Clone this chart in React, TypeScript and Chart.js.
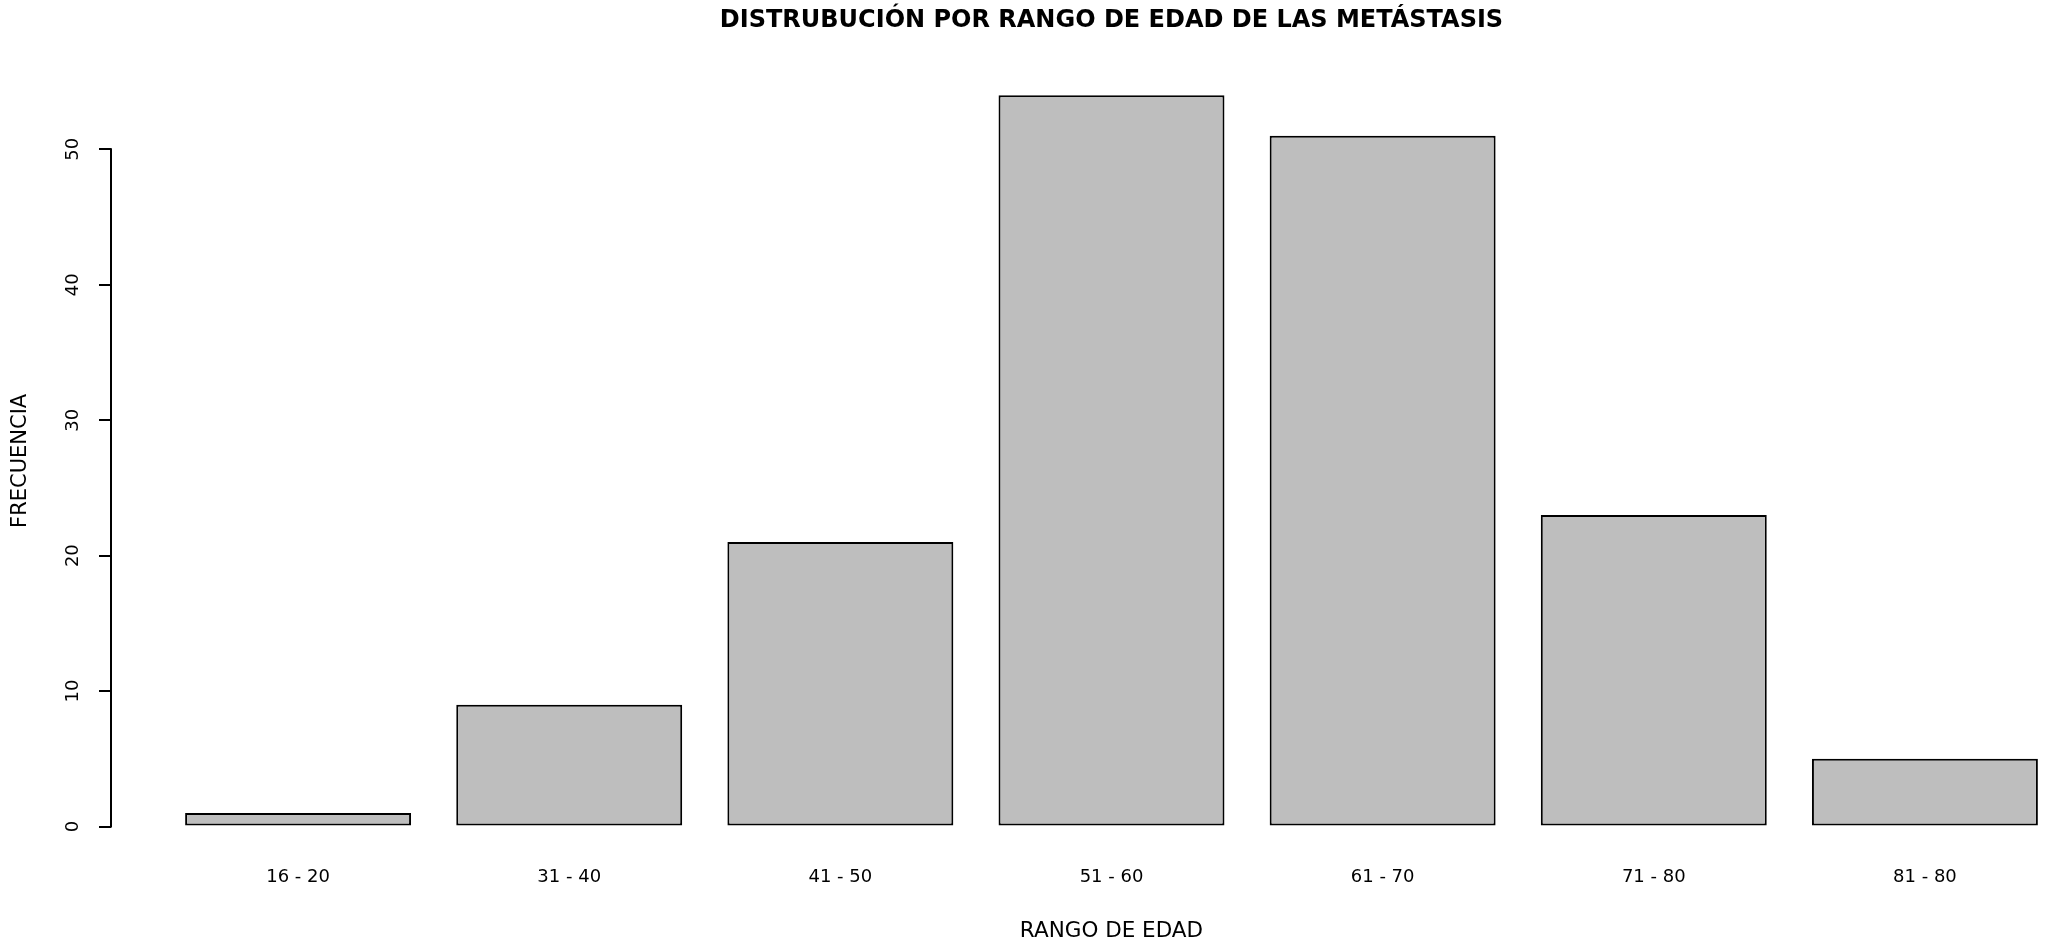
import React, { useEffect, useRef } from "react";
import { Chart, registerables } from "chart.js";

Chart.register(...registerables);

// ---- data ----
const TITLE = "DISTRUBUCIÓN POR RANGO DE EDAD DE LAS METÁSTASIS";
const X_TITLE = "RANGO DE EDAD";
const Y_TITLE = "FRECUENCIA";
const categories = ["16 - 20", "31 - 40", "41 - 50", "51 - 60", "61 - 70", "71 - 80", "81 - 80"];
const frequencies = [1, 9, 21, 54, 51, 23, 5];
const yTicks = [0, 10, 20, 30, 40, 50];

// axis ranges (R barplot: space 0.2, 4% range expansion)
const X_MIN = -0.69;
const X_MAX = 6.69;
const Y_MIN = -2.16;
const Y_MAX = 56.16;

const CANVAS_W = 2112;
const CANVAS_H = 947;
const FONT = "DejaVu Sans";

const yAxisLine = {
  id: "yAxisLine",
  afterDraw(chart: any) {
    const y = chart.scales.y;
    const ctx = chart.ctx;
    const x = chart.chartArea.left;
    ctx.save();
    ctx.strokeStyle = "#000";
    ctx.lineWidth = 2;
    ctx.lineCap = "square";
    ctx.beginPath();
    ctx.moveTo(x, y.getPixelForValue(yTicks[0]));
    ctx.lineTo(x, y.getPixelForValue(yTicks[yTicks.length - 1]));
    ctx.stroke();
    ctx.restore();
  },
};

export default function App() {
  const ref = useRef<HTMLCanvasElement | null>(null);

  useEffect(() => {
    document.body.style.margin = "0";
    document.body.style.overflow = "hidden";
    if (!ref.current) return;
    Chart.defaults.font.family = FONT;
    const chart = new Chart(ref.current, {
      type: "bar",
      data: {
        datasets: [
          {
            label: Y_TITLE,
            data: frequencies.map((v, i) => ({ x: i, y: v })),
            backgroundColor: "#BEBEBE",
            borderColor: "#000000",
            borderWidth: 2,
            borderSkipped: false,
            categoryPercentage: 1,
            barPercentage: 1 / 1.2,
          } as any,
        ],
      },
      options: {
        responsive: false,
        animation: false,
        layout: { padding: 0 },
        plugins: {
          legend: { display: false },
          tooltip: { enabled: false },
          title: {
            display: true,
            text: TITLE,
            fullSize: false,
            color: "#000",
            font: { family: FONT, size: 24, weight: "bold" },
            padding: { top: 6.2, bottom: 30.9 },
          },
        },
        scales: {
          x: {
            type: "linear",
            min: X_MIN,
            max: X_MAX,
            offset: false,
            bounds: "data",
            afterBuildTicks: (s: any) => {
              s.ticks = categories.map((_, i) => ({ value: i }));
            },
            afterFit: (s: any) => {
              s.height = 91.2;
            },
            grid: { display: false, drawTicks: false, offset: false },
            border: { display: false },
            ticks: {
              autoSkip: false,
              maxRotation: 0,
              minRotation: 0,
              padding: 11,
              color: "#000",
              font: { family: FONT, size: 18 },
              callback: (v: any) => categories[v] ?? "",
            },
            title: {
              display: true,
              text: X_TITLE,
              color: "#000",
              font: { family: FONT, size: 21.5 },
              padding: { top: 4, bottom: 2.2 },
            },
          },
          y: {
            type: "linear",
            min: Y_MIN,
            max: Y_MAX,
            bounds: "data",
            afterBuildTicks: (s: any) => {
              s.ticks = yTicks.map((v) => ({ value: v }));
            },
            afterFit: (s: any) => {
              s.width = 111;
            },
            grid: {
              display: true,
              drawOnChartArea: false,
              drawTicks: true,
              tickLength: 12,
              color: "#000",
              lineWidth: 2,
            },
            border: { display: false },
            ticks: {
              autoSkip: false,
              minRotation: 90,
              maxRotation: 90,
              crossAlign: "center",
              padding: 14.5,
              color: "#000",
              font: { family: FONT, size: 18 },
              callback: (v: any) => String(v),
            },
            title: {
              display: true,
              text: Y_TITLE,
              color: "#000",
              font: { family: FONT, size: 21 },
              padding: { top: 7.8, bottom: 0 },
            },
          },
        },
      } as any,
      plugins: [yAxisLine],
    });
    return () => chart.destroy();
  }, []);

  return (
    <div
      style={{
        position: "absolute",
        left: 0,
        top: 0,
        width: 2050,
        height: 947,
        overflow: "hidden",
        background: "#fff",
      }}
    >
      <canvas ref={ref} width={CANVAS_W} height={CANVAS_H} style={{ display: "block" }} />
    </div>
  );
}
